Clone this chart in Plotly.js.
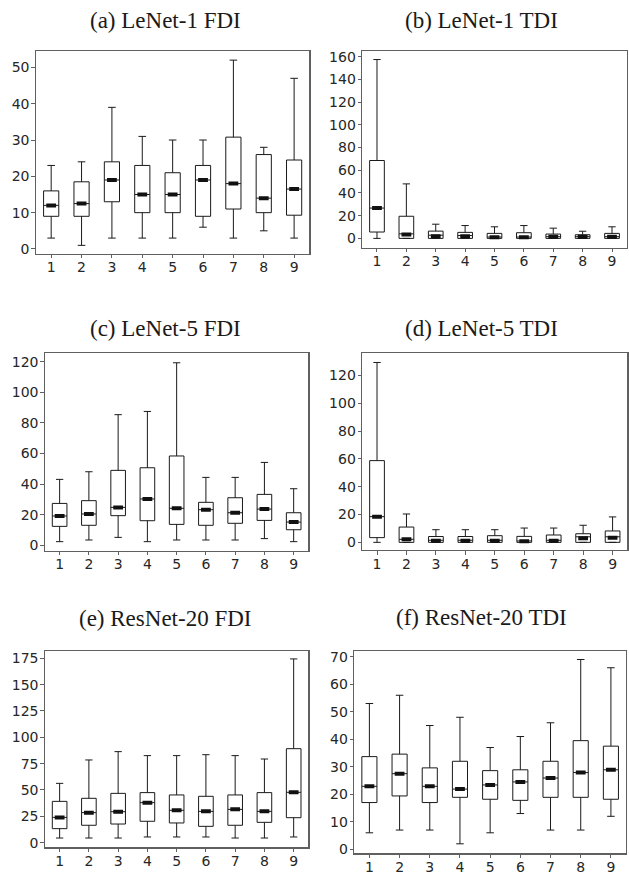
<!DOCTYPE html>
<html>
<head>
<meta charset="utf-8">
<script src="https://cdn.plot.ly/plotly-3.0.1.min.js"></script>
<style>html,body{margin:0;padding:0;background:#fff}#chart{width:629px;height:874px}</style>
</head>
<body>
<div id="chart"></div>
<script>
// Category labels (digit classes)
const categories = [1, 2, 3, 4, 5, 6, 7, 8, 9];

// Panel titles
const titles = ["(a) LeNet-1 FDI", "(b) LeNet-1 TDI", "(c) LeNet-5 FDI", "(d) LeNet-5 TDI", "(e) ResNet-20 FDI", "(f) ResNet-20 TDI"];

// (a) LeNet-1 FDI
const a_low = [3, 1, 3, 3, 3, 6, 3, 5, 3];
const a_q1  = [9, 9, 13, 10, 10, 9, 11, 10, 9.3];
const a_med = [12, 12.5, 19, 15, 15, 19, 18, 14, 16.5];
const a_q3  = [16, 18.5, 24, 23, 21, 23, 30.8, 26, 24.5];
const a_up  = [23, 24, 39, 31, 30, 30, 52, 28, 47];
const a_mark = [12, 12.5, 19, 15, 15, 19, 18, 14, 16.5];

// (b) LeNet-1 TDI
const b_low = [0, 0, 0, 0, 0, 0, 0, 0, 0];
const b_q1  = [5.6, 0, 0, 0, 0, 0, 0, 0, 0];
const b_med = [26.7, 4, 2.8, 2.5, 1.2, 1.2, 1.5, 1.5, 1.5];
const b_q3  = [68.6, 19.5, 6.4, 5.3, 4.4, 5, 3.8, 3.2, 4.4];
const b_up  = [157.5, 48, 12.5, 11.3, 10.2, 11.3, 9, 6.3, 10.2];
const b_mark = [26.7, 3.5, 1.8, 1.8, 0.9, 0.9, 1.5, 1.5, 1.5];

// (c) LeNet-5 FDI
const c_low = [2.4, 3.5, 5.2, 2.4, 3.5, 3.5, 3.5, 4.4, 2.4];
const c_q1  = [12.4, 13.1, 19.4, 16.1, 13.7, 13.1, 14.4, 16.3, 10.2];
const c_med = [19.2, 20.5, 24.8, 30.3, 24.2, 23.3, 21.3, 23.7, 15.2];
const c_q3  = [27.4, 29.2, 49, 50.7, 58.4, 28.1, 31.1, 33.3, 21.3];
const c_up  = [43.1, 48.1, 85.4, 87.5, 119.3, 44.4, 44.4, 54.2, 37];
const c_mark = [19.2, 20.5, 24.8, 30.3, 24.2, 23.3, 21.3, 23.7, 15.2];

// (d) LeNet-5 TDI
const d_low = [0, 0, 0, 0, 0, 0, 0, 0, 0];
const d_q1  = [3.4, 0, 0, 0, 0, 0, 0, 0, 0];
const d_med = [18.5, 2.2, 1.5, 1.5, 1.5, 1, 1.5, 4, 4];
const d_q3  = [58.8, 11, 4.2, 4.2, 4.8, 4.3, 5.3, 6.2, 8.2];
const d_up  = [129.4, 20.4, 9.1, 9.1, 9.1, 10.3, 10.3, 12.3, 18.3];
const d_mark = [18.5, 2.2, 1.2, 1.2, 1.2, 0.8, 1.2, 2.9, 3.4];

// (e) ResNet-20 FDI
const e_low = [4.4, 4.4, 4.4, 5.4, 5.4, 5.4, 4.4, 4.4, 5.4];
const e_q1  = [13.3, 16.5, 17.7, 20.3, 18.7, 15.5, 16.5, 19.3, 23.7];
const e_med = [24, 28.5, 29.4, 38, 30.7, 29.7, 31.6, 29.7, 47.8];
const e_q3  = [39.2, 42.1, 46.8, 47.5, 45.3, 44, 45.3, 47.5, 89.2];
const e_up  = [56.3, 78.5, 86.4, 82.6, 82.6, 83.5, 82.6, 79.4, 174.4];
const e_mark = [24, 28.5, 29.4, 38, 30.7, 29.7, 31.6, 29.7, 47.8];

// (f) ResNet-20 TDI
const f_low = [6, 7, 7, 2, 6, 13, 7, 7, 12];
const f_q1  = [17, 19.4, 17, 18.9, 18.2, 17.8, 18.9, 18.9, 18.2];
const f_med = [22.9, 27.5, 22.9, 21.9, 23.4, 24.5, 25.9, 27.9, 28.9];
const f_q3  = [33.7, 34.6, 29.6, 32, 28.6, 28.9, 32, 39.5, 37.5];
const f_up  = [53, 56, 45, 48, 37, 41, 46, 69, 66];
const f_mark = [22.9, 27.5, 22.9, 21.9, 23.4, 24.5, 25.9, 27.9, 28.9];

// Y tick values per panel
const yticksA = [0, 10, 20, 30, 40, 50];
const yticksB = [0, 20, 40, 60, 80, 100, 120, 140, 160];
const yticksC = [0, 20, 40, 60, 80, 100, 120];
const yticksD = [0, 20, 40, 60, 80, 100, 120];
const yticksE = [0, 25, 50, 75, 100, 125, 150, 175];
const yticksF = [0, 10, 20, 30, 40, 50, 60, 70];

const W = 629, H = 874;
// panel frames in pixels: [left, right, top, bottom]
const frames = [
  [36, 309.3, 50.7, 253.7],
  [362.3, 626.7, 50.7, 247.7],
  [45, 308.3, 353.3, 550.7],
  [362.3, 627.3, 353.3, 550],
  [45, 308.3, 650.7, 847.3],
  [354.3, 626, 650.7, 853.3]
];
const yranges = [[-1.3, 54.6], [-8.2, 165.3], [-3.5, 125.5], [-5.5, 136], [-4.4, 182.2], [-1.45, 72.2]];
// title positions [x center px, y center px]
const titlePos = [[165, 21], [482, 21], [165, 329], [482, 329], [165, 618], [482, 617]];

const panels = [
  [a_low, a_q1, a_med, a_q3, a_up, a_mark, yticksA],
  [b_low, b_q1, b_med, b_q3, b_up, b_mark, yticksB],
  [c_low, c_q1, c_med, c_q3, c_up, c_mark, yticksC],
  [d_low, d_q1, d_med, d_q3, d_up, d_mark, yticksD],
  [e_low, e_q1, e_med, e_q3, e_up, e_mark, yticksE],
  [f_low, f_q1, f_med, f_q3, f_up, f_mark, yticksF]
];

const traces = [];
const layout = {
  width: W, height: H,
  margin: {l: 0, r: 0, t: 0, b: 0},
  paper_bgcolor: '#fff', plot_bgcolor: '#fff',
  showlegend: false,
  annotations: []
};

const tickfont = {family: 'DejaVu Sans', size: 14, color: '#262626'};

panels.forEach((p, i) => {
  const n = i === 0 ? '' : String(i + 1);
  const xa = 'x' + n, ya = 'y' + n;
  const [low, q1, med, q3, up, mark, yt] = p;
  traces.push({
    type: 'box', xaxis: xa, yaxis: ya,
    x: categories, q1: q1, median: med, q3: q3,
    lowerfence: low, upperfence: up,
    width: 0.5, whiskerwidth: 0.5,
    boxpoints: false,
    fillcolor: 'rgba(255,255,255,0)',
    line: {color: '#1a1a1a', width: 1},
    hoverinfo: 'skip'
  });
  traces.push({
    type: 'scatter', mode: 'markers', xaxis: xa, yaxis: ya,
    x: categories, y: mark,
    marker: {symbol: 'line-ew', size: 7, color: '#111', line: {color: '#111', width: 4}},
    hoverinfo: 'skip'
  });
  const f = frames[i];
  const axBase = {
    showline: true, mirror: true, linecolor: '#606060', linewidth: 1.2,
    ticks: 'outside', ticklen: 3.5, tickwidth: 1, tickcolor: '#606060',
    tickfont: tickfont, showgrid: false, zeroline: false, fixedrange: true
  };
  layout['xaxis' + n] = Object.assign({}, axBase, {
    domain: [f[0] / W, f[1] / W], anchor: ya,
    range: [0.5, 9.5], tickmode: 'array', tickvals: categories,
    ticktext: categories.map(String), ticklabelstandoff: -3
  });
  layout['yaxis' + n] = Object.assign({}, axBase, {
    domain: [1 - f[3] / H, 1 - f[2] / H], anchor: xa,
    range: yranges[i], tickmode: 'array', tickvals: yt,
    ticktext: yt.map(String), ticklabelstandoff: -1
  });
  layout.annotations.push({
    xref: 'paper', yref: 'paper',
    x: titlePos[i][0] / W, y: 1 - titlePos[i][1] / H,
    xanchor: 'center', yanchor: 'middle',
    text: titles[i], showarrow: false,
    font: {family: 'Liberation Serif', size: 23, color: '#1a1a1a'}
  });
});

Plotly.newPlot('chart', traces, layout, {staticPlot: true});
</script>
</body>
</html>
